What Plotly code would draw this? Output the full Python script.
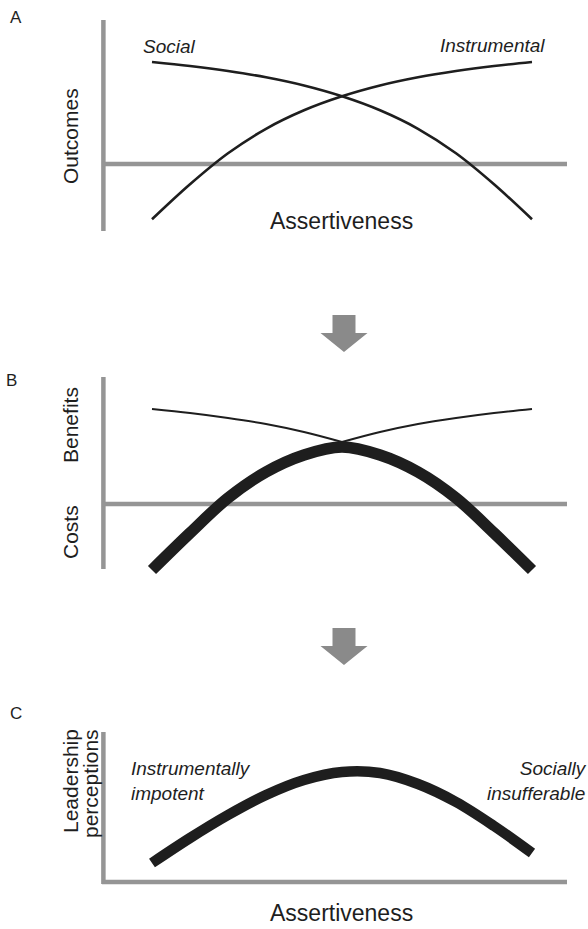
import plotly.graph_objects as go

W, H = 588, 929

# ---------------- data ----------------
assert_x = [0, 1, 2, 3, 4, 5, 6, 7, 8, 9, 10]
# Panel A: outcomes
social_A = [10.2, 9.8, 9.3, 8.67, 7.85, 6.77, 5.37, 3.52, 1.07, -2.03, -5.53]
instrumental_A = [-5.53, -2.03, 1.07, 3.52, 5.37, 6.77, 7.85, 8.67, 9.3, 9.8, 10.2]
# Panel B: benefits (thin) and net (thick)
benefit_x_left = [0, 1, 2, 3, 4, 5]
benefit_left_B = [9.5, 9.1, 8.6, 8.0, 7.2, 6.2]
benefit_x_right = [5, 6, 7, 8, 9, 10]
benefit_right_B = [6.2, 7.2, 8.0, 8.6, 9.1, 9.5]
net_B = [-6.6, -2.9, 0.6, 3.2, 4.9, 5.7, 4.9, 3.2, 0.6, -2.9, -6.6]
# Panel C: leadership perceptions
leader_C = [1.9, 4.4, 6.7, 8.7, 10.2, 11.0, 10.9, 9.8, 8.0, 5.6, 2.9]

panel_letters = ["A", "B", "C"]
x_title = "Assertiveness"

# ---------------- layout helpers ----------------
def px_x(x):
    return x / W

def px_y(y):
    return 1 - y / H

X_L, X_R = 102, 567          # x domain in px
X0_PX, PX_PER_X = 152, 38    # data x=0 at 152px
x_range = [(X_L - X0_PX) / PX_PER_X, (X_R - X0_PX) / PX_PER_X]
PX_PER_Y = 10

def y_axis(top_px, bot_px, zero_px):
    return dict(domain=[px_y(bot_px), px_y(top_px)],
                range=[(zero_px - bot_px) / PX_PER_Y, (zero_px - top_px) / PX_PER_Y])

INK = "#1e1e1e"
GRAY = "#959595"
FONT = "Liberation Sans, Arial, sans-serif"

fig = go.Figure()

# Panel A
fig.add_trace(go.Scatter(x=assert_x, y=social_A, xaxis="x", yaxis="y", mode="lines",
                         line=dict(color=INK, width=2.6, shape="spline"), showlegend=False))
fig.add_trace(go.Scatter(x=assert_x, y=instrumental_A, xaxis="x", yaxis="y", mode="lines",
                         line=dict(color=INK, width=2.6, shape="spline"), showlegend=False))
# Panel B
fig.add_trace(go.Scatter(x=benefit_x_left, y=benefit_left_B, xaxis="x2", yaxis="y2", mode="lines",
                         line=dict(color=INK, width=2.0, shape="spline"), showlegend=False))
fig.add_trace(go.Scatter(x=benefit_x_right, y=benefit_right_B, xaxis="x2", yaxis="y2", mode="lines",
                         line=dict(color=INK, width=2.0, shape="spline"), showlegend=False))
fig.add_trace(go.Scatter(x=assert_x, y=net_B, xaxis="x2", yaxis="y2", mode="lines",
                         line=dict(color=INK, width=11.5, shape="spline"), showlegend=False))
# Panel C
fig.add_trace(go.Scatter(x=assert_x, y=leader_C, xaxis="x3", yaxis="y3", mode="lines",
                         line=dict(color=INK, width=10.5, shape="spline"), showlegend=False))

hidden = dict(showgrid=False, zeroline=False, showticklabels=False, ticks="", showline=False,
              fixedrange=True)

A_ax = y_axis(12, 240, 164)
B_ax = y_axis(370, 585, 504)
C_ax = y_axis(725, 886, 882)

fig.update_layout(
    width=W, height=H,
    margin=dict(l=0, r=0, t=0, b=0),
    paper_bgcolor="white", plot_bgcolor="rgba(0,0,0,0)",
    font=dict(family=FONT, color=INK),
    hovermode=False,
    xaxis=dict(domain=[px_x(X_L), px_x(X_R)], range=x_range, anchor="y", **hidden),
    yaxis=dict(anchor="x", **A_ax, **hidden),
    xaxis2=dict(domain=[px_x(X_L), px_x(X_R)], range=x_range, anchor="y2", **hidden),
    yaxis2=dict(anchor="x2", **B_ax, **hidden),
    xaxis3=dict(domain=[px_x(X_L), px_x(X_R)], range=x_range, anchor="y3", **hidden),
    yaxis3=dict(anchor="x3", **C_ax, **hidden),
)

shapes = []
def axis_line(xa, ya, x0, x1, y0, y1):
    shapes.append(dict(type="line", xref=f"{xa} domain", yref=ya, x0=x0, x1=x1, y0=y0, y1=y1,
                       line=dict(color=GRAY, width=4.5), layer="below"))

# A: vertical axis and zero line
axis_line("x", "y", 0.003, 0.003, (164 - 231) / 10, (164 - 20) / 10)
axis_line("x", "y", 0, 1, 0, 0)
# B
axis_line("x2", "y2", 0.003, 0.003, (504 - 569) / 10, (504 - 377) / 10)
axis_line("x2", "y2", 0, 1, 0, 0)
# C
axis_line("x3", "y3", 0.003, 0.003, (882 - 884) / 10, (882 - 732) / 10)
axis_line("x3", "y3", 0, 1, 0, 0)

# down arrows between panels
def arrow(top):
    cx = 344
    pts = [(cx - 11.5, top), (cx + 11.5, top), (cx + 11.5, top + 18), (cx + 23.5, top + 18),
           (cx, top + 37), (cx - 23.5, top + 18), (cx - 11.5, top + 18)]
    path = "M " + " L ".join(f"{px_x(a):.5f},{px_y(b):.5f}" for a, b in pts) + " Z"
    shapes.append(dict(type="path", xref="paper", yref="paper", path=path,
                       fillcolor="#8a8a8a", line=dict(width=0)))
arrow(315)
arrow(628)

fig.update_layout(shapes=shapes)

def label(text, x, y, size, italic=False, angle=0, xanchor="center", yanchor="middle", align="center"):
    fig.add_annotation(text=text, x=px_x(x), y=px_y(y), xref="paper", yref="paper",
                       showarrow=False, textangle=angle, xanchor=xanchor, yanchor=yanchor,
                       align=align,
                       font=dict(size=size, family=FONT, color=INK,
                                 style="italic" if italic else "normal"))

# panel letters
label(panel_letters[0], 16, 18, 17)
label(panel_letters[1], 12, 380, 17)
label(panel_letters[2], 16, 713, 17)

# Panel A texts
label("Social", 169, 46, 19, italic=True)
label("Instrumental", 492, 45, 19, italic=True)
label("Outcomes", 70, 136, 21, angle=-90)
label(x_title, 341, 221, 23)

# Panel B texts
label("Benefits", 70, 425, 21, angle=-90)
label("Costs", 70, 532, 21, angle=-90)

# Panel C texts
label("Leadership", 70, 781, 21, angle=-90)
label("perceptions", 90, 784, 21, angle=-90)
label("Instrumentally<br>impotent", 129, 781, 19, italic=True, xanchor="left", align="left")
label("Socially<br>insufferable", 589, 781, 19, italic=True, xanchor="right", align="right")
label(x_title, 341, 913, 23)

fig.write_html("out.html", config={"displayModeBar": False},
               post_script="document.body.style.margin='0';document.body.style.overflow='hidden';")
